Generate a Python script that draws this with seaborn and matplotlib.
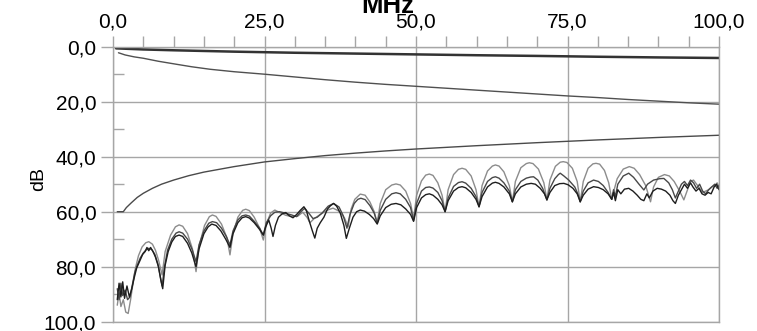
import matplotlib
matplotlib.use("Agg")
import matplotlib.pyplot as plt
import pandas as pd
import seaborn as sns
from matplotlib.ticker import MultipleLocator, FuncFormatter

# ---------------- data ----------------
top_f = [0.5, 5, 10, 20, 25, 30, 40, 50, 60, 70, 75, 80, 90, 100]
top_db = [0.6, 1.0, 1.3, 1.8, 2.0, 2.2, 2.5, 2.8, 3.1, 3.35, 3.5, 3.65, 3.9, 4.1]

att_f = [0.9, 2, 3.5, 5, 7.5, 10.5, 13, 16, 20, 25, 30, 35, 40, 45, 50, 55, 60,
         65, 70, 75, 80, 85, 90, 95, 100]
att_db = [2.2, 3.0, 3.7, 4.2, 5.3, 6.4, 7.3, 8.2, 9.1, 10.0, 11.0, 12.0, 12.9,
          13.7, 14.4, 15.1, 15.8, 16.5, 17.2, 17.9, 18.5, 19.2, 19.8, 20.4, 20.9]

lim_f = [0.7, 1.7, 2.2, 3, 4, 5, 6.5, 8, 10, 12.5, 15, 20, 25, 30, 35, 40, 45,
         50, 60, 70, 75, 80, 90, 100]
lim_db = [60, 60, 58.5, 56.8, 54.8, 53.3, 51.5, 50.0, 48.5, 46.9, 45.6, 43.6,
          41.9, 40.7, 39.6, 38.7, 37.9, 37.2, 36.0, 34.9, 34.4, 33.9, 33.0, 32.2]

light_f = [0.7, 1.0, 1.3, 1.7, 2.1, 2.5, 2.9, 3.3, 3.7, 4.2, 4.8, 5.4, 5.9, 6.5, 7.0, 7.5, 8.1,
           8.6, 9.5, 10.3, 10.9, 11.5, 12.3, 13.1, 13.7,
           14.2, 15.1, 15.9, 16.4, 17.0, 17.9, 18.8, 19.3,
           19.8, 20.6, 21.4, 21.9, 22.5, 23.3, 24.2, 24.8,
           25.3, 26.0, 26.7, 27.5, 28.5, 29.5, 30.5, 31.3, 32.0, 32.5, 33.2, 34.2,
           35.3, 36.3, 37.3, 38.2, 38.8,
           39.3, 39.9, 40.8, 41.6, 42.4, 43.1, 43.6,
           44.1, 45.0, 46.0, 46.7, 47.4, 48.3, 49.1, 49.6,
           50.1, 50.9, 51.6, 52.2, 52.8, 53.6, 54.3, 54.8,
           55.3, 56.2, 57.0, 57.6, 58.2, 59.1, 59.9, 60.4,
           60.9, 61.8, 62.6, 63.1, 63.7, 64.5, 65.4, 65.9,
           66.4, 67.3, 68.2, 68.7, 69.3, 70.2, 71.1, 71.6,
           72.1, 73.0, 73.8, 74.3, 74.9, 75.8, 76.6, 77.1,
           77.6, 78.4, 79.2, 79.7, 80.3, 81.1, 81.8, 82.3,
           82.7, 83.2, 84.2, 85.2, 86.0, 86.9, 87.9, 88.7,
           89.2, 90.0, 91.0, 91.8, 92.6, 93.5, 94.2,
           94.8, 95.3, 95.8, 96.3, 96.8, 97.3, 97.8, 98.3, 98.8, 99.3, 99.7, 100.0]
light_db = [94.0, 89.5, 94.5, 92.0, 96.5, 97.0, 92.0, 86.0, 80.5, 76.0, 72.8, 71.3, 70.9, 71.8, 74.0, 77.5, 83.0,
            74.5, 68.5, 65.5, 64.8, 65.3, 68.0, 73.5, 81.8,
            72.5, 65.0, 61.8, 61.2, 61.7, 64.5, 69.5, 75.7,
            68.0, 62.0, 59.5, 59.1, 59.6, 62.0, 66.0, 70.3,
            64.5, 60.5, 59.4, 60.3, 61.3, 61.8, 61.6, 60.2, 62.0, 64.0, 62.5, 61.0,
            59.5, 58.7, 59.8, 62.3, 65.5,
            59.0, 55.5, 53.6, 54.0, 56.5, 60.0, 64.0,
            57.0, 52.0, 50.3, 49.9, 50.3, 52.5, 57.0, 62.5,
            54.0, 48.8, 46.7, 46.3, 46.8, 49.5, 54.0, 60.0,
            52.0, 46.5, 44.6, 44.2, 44.6, 47.0, 52.0, 58.2,
            50.5, 45.2, 43.4, 43.0, 43.4, 45.5, 50.5, 56.4,
            49.0, 44.0, 42.5, 42.2, 42.5, 44.5, 49.5, 55.7,
            48.5, 43.5, 42.0, 41.8, 42.1, 44.2, 49.0, 56.4,
            49.0, 44.2, 42.6, 42.4, 42.7, 45.0, 49.5, 55.5,
            52.0, 48.0, 44.5, 43.6, 44.2, 46.5, 50.5, 56.4,
            51.0, 47.5, 46.5, 47.0, 49.0, 52.5, 55.7,
            52.0, 49.0, 48.5, 50.0, 51.5, 53.0, 52.5, 52.0, 51.0, 50.5, 49.5, 51.0]

mid_f = [0.7, 1.0, 1.3, 1.6, 2.0, 2.4, 2.8, 3.2, 3.6, 4.0, 4.5, 5.0, 5.4, 5.9, 6.4, 6.9, 7.4, 7.8, 8.1,
         8.5, 9.0, 9.7, 10.4, 10.9, 11.5, 12.3, 13.1, 13.7,
         14.2, 15.0, 15.8, 16.4, 17.1, 17.9, 18.7, 19.3,
         19.8, 20.6, 21.3, 21.9, 22.5, 23.3, 24.2, 24.8,
         25.3, 26.0, 26.7, 27.5, 28.5, 29.5, 30.3, 31.0, 31.6, 32.3, 33.0, 33.7, 34.5,
         35.5, 36.4, 37.3, 38.0, 38.6,
         39.1, 39.8, 40.4, 40.9, 41.6, 42.4, 43.1, 43.6,
         44.1, 45.0, 46.0, 46.7, 47.4, 48.3, 49.1, 49.6,
         50.1, 50.9, 51.6, 52.2, 52.8, 53.6, 54.3, 54.8,
         55.3, 56.2, 57.0, 57.6, 58.2, 59.1, 59.9, 60.4,
         60.9, 61.8, 62.6, 63.1, 63.7, 64.5, 65.4, 65.9,
         66.4, 67.3, 68.2, 68.9, 69.4, 70.1, 70.9, 71.6,
         72.1, 72.9, 73.5, 73.8, 74.4, 75.2, 76.2, 76.7, 77.1,
         77.6, 78.4, 79.3, 80.1, 80.9, 81.7, 82.3,
         82.6, 82.9, 83.3, 84.2, 85.1, 85.9, 86.8, 87.6,
         88.2, 89.2, 90.2, 90.9, 91.7, 92.3, 92.8,
         93.3, 93.8, 94.3, 94.8, 95.3, 95.8, 96.3, 96.8, 97.3, 97.8, 98.3, 98.8, 99.3, 99.7, 100.0]
mid_db = [88.0, 92.0, 86.0, 90.5, 88.5, 92.0, 91.0, 86.5, 82.0, 79.5, 76.8, 75.0, 74.0, 73.3, 73.8, 75.5, 79.0, 83.5, 87.0,
          80.0, 74.0, 70.0, 67.8, 67.3, 67.8, 70.0, 74.0, 78.2,
          72.0, 67.0, 64.2, 63.6, 64.0, 66.0, 69.0, 72.1,
          67.0, 63.0, 61.5, 61.2, 61.6, 63.5, 66.0, 68.5,
          64.0, 61.5, 60.2, 60.0, 60.6, 61.2, 61.8, 60.0, 58.8, 60.5, 62.5, 62.0, 60.5,
          58.0, 57.0, 58.3, 61.5, 66.0,
          61.0, 57.0, 55.5, 55.1, 55.6, 57.8, 60.5, 64.2,
          59.5, 55.5, 53.5, 53.1, 53.5, 55.5, 58.5, 63.3,
          57.0, 52.5, 51.2, 51.0, 51.4, 53.0, 56.0, 60.0,
          55.0, 50.8, 49.4, 49.1, 49.6, 51.5, 54.5, 58.2,
          53.0, 49.0, 47.6, 47.3, 47.8, 49.5, 52.5, 56.4,
          52.0, 49.0, 47.8, 47.4, 47.3, 48.5, 51.5, 55.7,
          51.5, 48.0, 46.5, 46.0, 47.0, 48.5, 51.0, 53.5, 56.4,
          52.5, 49.5, 48.5, 49.0, 50.5, 53.0, 55.5,
          52.0, 54.5, 50.0, 47.0, 46.0, 47.5, 50.0, 52.1,
          50.0, 48.5, 48.0, 47.9, 49.5, 52.0, 55.0,
          52.5, 50.0, 49.0, 50.5, 48.5, 49.5, 51.5, 50.0, 52.5, 53.5, 52.0, 51.0, 50.0, 51.5, 50.5]

dark_f = [0.7, 1.0, 1.3, 1.6, 1.9, 2.3, 2.7, 3.1, 3.5, 3.9, 4.4, 4.9, 5.3, 5.6, 5.9, 6.2, 6.6, 7.0, 7.5, 7.9, 8.2,
          8.6, 9.1, 9.7, 10.3, 10.9, 11.5, 12.3, 13.0, 13.7,
          14.2, 15.0, 15.7, 16.3, 17.0, 17.8, 18.6, 19.3,
          19.8, 20.6, 21.3, 21.9, 22.5, 23.3, 24.2, 24.8,
          25.2, 25.7, 26.1, 26.4, 26.8, 27.3, 27.9, 28.5, 29.1, 29.7, 30.3, 30.9, 31.5, 31.9,
          32.4, 32.9, 33.3, 33.7, 34.2, 34.8, 35.4, 35.9, 36.4, 36.9, 37.5, 38.1, 38.5,
          39.0, 39.6, 40.2, 40.8, 41.5, 42.3, 43.0, 43.6,
          44.1, 45.0, 45.9, 46.7, 47.5, 48.3, 49.1, 49.6,
          50.1, 50.9, 51.6, 52.2, 52.8, 53.6, 54.3, 54.8,
          55.3, 56.2, 57.0, 57.6, 58.2, 59.1, 59.9, 60.4,
          60.9, 61.8, 62.6, 63.1, 63.7, 64.5, 65.4, 65.9,
          66.4, 67.3, 68.2, 69.0, 69.7, 70.5, 71.2, 71.6,
          72.1, 72.9, 73.7, 74.4, 75.1, 75.9, 76.6, 77.1,
          77.6, 78.4, 79.3, 80.1, 80.9, 81.7, 82.3,
          82.6, 82.9, 83.3, 83.8, 84.4, 85.1, 85.8, 86.5, 87.1, 87.6,
          88.1, 88.5, 89.1, 89.8, 90.5, 91.2, 91.9, 92.4, 92.8,
          93.3, 93.8, 94.3, 94.8, 95.3, 95.7, 96.2, 96.7, 97.2, 97.7, 98.2, 98.7, 99.2, 99.6, 100.0]
dark_db = [92.0, 86.0, 91.0, 85.5, 91.5, 87.0, 91.0, 88.0, 84.0, 80.5, 78.0, 75.5, 74.5, 73.0, 74.2, 73.0, 74.5, 76.5, 80.0, 85.0, 88.0,
           79.5, 74.5, 71.0, 69.0, 68.5, 69.0, 71.5, 75.0, 80.0,
           73.5, 68.0, 65.5, 64.5, 65.0, 67.0, 70.0, 73.0,
           68.0, 64.0, 62.2, 61.8, 62.3, 64.0, 66.5, 68.5,
           65.5, 63.0, 66.0, 69.0, 65.0, 62.0, 60.8, 60.3, 61.5, 62.2, 61.0, 59.5, 58.2, 59.5,
           63.5, 67.0, 69.6, 66.0, 64.0, 62.0, 59.0, 57.8, 57.0, 58.0, 60.5, 65.0, 69.7,
           66.0, 62.0, 60.0, 59.4, 59.8, 61.0, 62.5, 64.5,
           61.5, 58.5, 57.3, 57.0, 57.5, 59.0, 61.0, 63.5,
           58.5, 55.0, 53.8, 53.5, 54.0, 55.5, 57.5, 60.0,
           56.0, 52.5, 51.2, 50.9, 51.3, 53.0, 55.5, 58.2,
           54.5, 51.0, 49.6, 49.3, 49.7, 51.0, 53.5, 56.4,
           53.5, 51.0, 50.0, 49.7, 50.0, 51.5, 53.5, 55.7,
           53.0, 50.5, 49.8, 49.7, 50.2, 51.5, 53.5, 56.4,
           54.0, 51.8, 50.9, 51.2, 52.0, 53.5, 55.5,
           53.0, 56.0, 52.0, 53.5, 51.8, 51.5, 52.5, 54.0, 55.5, 56.0,
           53.5, 55.0, 52.5, 51.5, 51.8, 52.5, 54.0, 56.0, 57.0,
           54.0, 52.0, 50.0, 51.5, 49.5, 51.0, 52.5, 51.5, 53.5, 54.0, 53.0, 53.5, 51.0, 50.0, 52.0]

x_ticks = [0, 25, 50, 75, 100]
y_ticks = [0, 20, 40, 60, 80, 100]

# ---------------- plotting ----------------
sns.set_theme(style="white")
plt.rcParams["font.family"] = ["Liberation Sans", "DejaVu Sans"]

fig = plt.figure(figsize=(7.57, 3.31), dpi=100)
ax = fig.add_axes([0.1493, 0.0281, 0.8005, 0.8308])

series = [
    (light_f, light_db, "#8c8c8c", 1.0),
    (mid_f, mid_db, "#484848", 1.0),
    (dark_f, dark_db, "#1e1e1e", 1.0),
    (lim_f, lim_db, "#4a4a4a", 1.0),
    (att_f, att_db, "#505050", 1.0),
    (top_f, top_db, "#333333", 1.8),
]
for f, db, col, lw in series:
    df = pd.DataFrame({"MHz": f, "dB": db})
    sns.lineplot(data=df, x="MHz", y="dB", ax=ax, color=col, lw=lw,
                 estimator=None, sort=False, legend=False)

ax.set_xlim(0, 100)
ax.set_ylim(100, 0)

grid_col = "#a6a6a6"
ax.xaxis.tick_top()
ax.set_xticks(x_ticks)
ax.set_yticks(y_ticks)
ax.xaxis.set_minor_locator(MultipleLocator(5))
ax.yaxis.set_minor_locator(MultipleLocator(10))
fmt = FuncFormatter(lambda v, p: f"{v:.1f}".replace(".", ","))
ax.xaxis.set_major_formatter(fmt)
ax.yaxis.set_major_formatter(fmt)

ax.tick_params(axis="x", which="both", direction="out", length=8, width=1,
               color=grid_col, top=True, bottom=False, labeltop=True,
               labelbottom=False, labelsize=15, pad=3, labelcolor="black")
ax.tick_params(axis="y", which="major", direction="out", length=9, width=1,
               color=grid_col, left=True, labelsize=15, pad=3, labelcolor="black")
ax.tick_params(axis="y", which="minor", direction="in", length=8, width=1,
               color=grid_col, left=True)

ax.grid(True, which="major", color=grid_col, lw=1)
for s in ax.spines.values():
    s.set_color(grid_col)
    s.set_linewidth(1)

ax.set_xlabel("")
ax.set_ylabel("dB", fontsize=14, color="black")
ax.yaxis.set_label_coords(-0.108, 0.52)

fig.text(388 / 757, 1 - 12.7 / 331, "MHz", ha="center", va="baseline",
         fontsize=18.5, fontweight="bold", color="black")

fig.savefig("out.png", dpi=100)
